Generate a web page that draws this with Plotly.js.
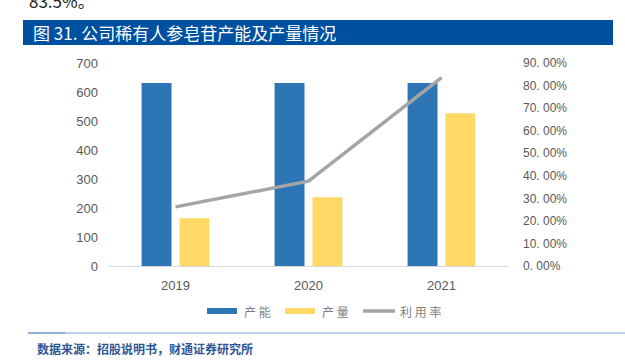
<!DOCTYPE html>
<html><head><meta charset="utf-8">
<script src="https://cdn.plot.ly/plotly-3.0.1.min.js"></script>
<style>html,body{margin:0;padding:0;background:#fff;}#c{width:625px;height:362px;}</style>
</head><body><div id="c"></div>
<script>
const years = ['2019', '2020', '2021'];
const capacity = [631, 631, 631];
const output = [165, 237, 527];
const utilization = [0.262, 0.376, 0.835];
const leftTicks = [0, 100, 200, 300, 400, 500, 600, 700];
const rightTicks = [0, 0.1, 0.2, 0.3, 0.4, 0.5, 0.6, 0.7, 0.8, 0.9];
const rightTickText = ['0. 00%', '10. 00%', '20. 00%', '30. 00%', '40. 00%', '50. 00%', '60. 00%', '70. 00%', '80. 00%', '90. 00%'];

const W = 625, H = 362, L = 109, R = 508, T = 63, B = 266;
const px = x => (x - L) / (R - L);
const py = y => (B - y) / (B - T);
const font = '"Noto Sans CJK SC", "Liberation Sans", sans-serif';
const tickFont = 'Liberation Sans, sans-serif';

const traces = [
  {type: 'bar', name: '产能', x: years, y: capacity, marker: {color: '#2E75B6'}},
  {type: 'bar', name: '产量', x: years, y: output, marker: {color: '#FFD966'}},
  {type: 'scatter', mode: 'lines', name: '利用率', x: years, y: utilization, yaxis: 'y2',
   line: {color: '#A5A5A5', width: 3.5}}
];

const layout = {
  width: W, height: H,
  margin: {l: L, r: W - R, t: T, b: H - B},
  paper_bgcolor: '#fff', plot_bgcolor: '#fff',
  barmode: 'group', bargap: 0.43, bargroupgap: 0.21,
  showlegend: false,
  font: {family: font, color: '#595959', size: 12},
  xaxis: {type: 'category', showgrid: false, showline: true, linecolor: '#D9D9D9', linewidth: 1,
          ticks: '', ticklabelstandoff: 7, tickfont: {size: 13, color: '#595959', family: tickFont}, fixedrange: true},
  yaxis: {range: [0, 700], tickvals: leftTicks, showgrid: false, zeroline: false, showline: false,
          ticks: '', ticklabelstandoff: 10, tickfont: {size: 13, color: '#595959', family: tickFont}},
  yaxis2: {range: [0, 0.9], overlaying: 'y', side: 'right', tickvals: rightTicks, ticktext: rightTickText,
           showgrid: false, zeroline: false, showline: false, ticks: '', ticklabelstandoff: 14,
           tickfont: {size: 12, color: '#595959', family: tickFont}},
  shapes: [
    {type: 'rect', xref: 'paper', yref: 'paper', x0: px(23), x1: px(613), y0: py(20), y1: py(45),
     fillcolor: '#0050A0', line: {width: 0}, layer: 'below'},
    {type: 'line', xref: 'paper', yref: 'paper', x0: px(28), x1: px(625), y0: py(333), y1: py(333),
     line: {color: '#A9C4E4', width: 1.5}},
    {type: 'line', xref: 'paper', yref: 'paper', x0: px(28), x1: px(65), y0: py(333), y1: py(333),
     line: {color: '#7FA3D3', width: 1.5}},
    // legend swatches
    {type: 'rect', xref: 'paper', yref: 'paper', x0: px(207), x1: px(237), y0: py(308), y1: py(314),
     fillcolor: '#2E75B6', line: {width: 0}},
    {type: 'rect', xref: 'paper', yref: 'paper', x0: px(285), x1: px(315), y0: py(308), y1: py(314),
     fillcolor: '#FFD966', line: {width: 0}},
    {type: 'line', xref: 'paper', yref: 'paper', x0: px(363), x1: px(395), y0: py(311), y1: py(311),
     line: {color: '#A5A5A5', width: 3.5}}
  ],
  annotations: [
    {xref: 'paper', yref: 'paper', x: px(31), y: py(32), xanchor: 'left', yanchor: 'middle', showarrow: false,
     text: '图 31. 公司稀有人参皂苷产能及产量情况', font: {family: font, size: 17, color: '#ffffff'}},
    {xref: 'paper', yref: 'paper', x: px(27), y: py(1), xanchor: 'left', yanchor: 'middle', showarrow: false,
     text: '83.5%。', font: {family: font, size: 17, color: '#222'}},
    {xref: 'paper', yref: 'paper', x: px(242), y: py(311), xanchor: 'left', yanchor: 'middle', showarrow: false,
     text: '产 能', font: {family: font, size: 12, color: '#7f7f7f'}},
    {xref: 'paper', yref: 'paper', x: px(320), y: py(311), xanchor: 'left', yanchor: 'middle', showarrow: false,
     text: '产 量', font: {family: font, size: 12, color: '#7f7f7f'}},
    {xref: 'paper', yref: 'paper', x: px(398), y: py(311), xanchor: 'left', yanchor: 'middle', showarrow: false,
     text: '利 用 率', font: {family: font, size: 12, color: '#7f7f7f'}},
    {xref: 'paper', yref: 'paper', x: px(35), y: py(348), xanchor: 'left', yanchor: 'middle', showarrow: false,
     text: '<b>数据来源：招股说明书，财通证券研究所</b>', font: {family: font, size: 12, color: '#2F5597'}}
  ]
};

Plotly.newPlot('c', traces, layout, {displayModeBar: false, staticPlot: true});
</script></body></html>
